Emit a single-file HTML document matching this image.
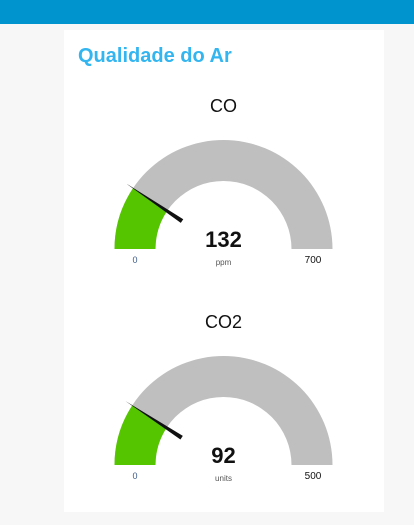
<!DOCTYPE html>
<html><head><meta charset="utf-8"><style>
html,body{margin:0;padding:0;width:414px;height:525px;background:#f7f7f7;overflow:hidden;font-family:"Liberation Sans",sans-serif}
#hdr{position:absolute;left:0;top:0;width:414px;height:24px;background:#0094ce}
#card{position:absolute;left:64px;top:30px;width:320px;height:482px;background:#fff}
svg{position:absolute;left:0;top:0}
</style></head><body>
<div id="hdr"></div>
<div id="card"></div>
<svg id="s" width="414" height="525">
<text x="78" y="62" font-size="20" font-weight="bold" fill="#33b5f0" style="font-weight:600">Qualidade do Ar</text>
</svg>
<script>
const gaugeTitles=["CO","CO2"];
const gaugeValues=[132,92];
const gaugeMins=[0,0];
const gaugeMaxes=[700,500];
const gaugeUnits=["ppm","units"];
const NS="http://www.w3.org/2000/svg";
const svg=document.getElementById('s');
function mk(t,a,p){const e=document.createElementNS(NS,t);for(const k in a)e.setAttribute(k,a[k]);(p||svg).appendChild(e);return e;}
const cx=223.5,R=109,r=68;
function pt(rad,f,cy){const a=Math.PI*(1-f);return [cx+rad*Math.cos(a),cy-rad*Math.sin(a)];}
function arc(f0,f1,cy){const a=pt(R,f0,cy),b=pt(R,f1,cy),c=pt(r,f1,cy),d=pt(r,f0,cy);
return `M${a[0]},${a[1]} A${R},${R} 0 0 1 ${b[0]},${b[1]} L${c[0]},${c[1]} A${r},${r} 0 0 0 ${d[0]},${d[1]} Z`;}
gaugeTitles.forEach((t,i)=>{
 const cy=249+i*216;
 const f=(gaugeValues[i]-gaugeMins[i])/(gaugeMaxes[i]-gaugeMins[i]);
 let e=mk('text',{x:cx,y:cy-137,'font-size':18,'text-anchor':'middle',fill:'#111'});e.textContent=t;
 
 
 e=mk('path',{d:arc(0,1,cy),fill:'#bfbfbf'});
 
 
 e=mk('path',{d:arc(0,f,cy),fill:'#55c500'});
 
 
 const a=Math.PI*(1-f),ux=Math.cos(a),uy=-Math.sin(a),nx=-uy,ny=ux;
 const o=[cx+117*ux,cy+117*uy],n=[cx+50*ux,cy+50*uy];
 e=mk('polygon',{points:`${o[0]},${o[1]} ${n[0]+2.2*nx},${n[1]+2.2*ny} ${n[0]-2.2*nx},${n[1]-2.2*ny}`,fill:'#111'});
 
 
 e=mk('text',{x:cx,y:cy-2,'font-size':22,'font-weight':'bold','text-anchor':'middle',fill:'#111'});e.textContent=gaugeValues[i];
 
 
 e=mk('text',{x:cx,y:cy+16,'font-size':8,'text-anchor':'middle',fill:'#555'});e.textContent=gaugeUnits[i];
 
 
 e=mk('text',{x:135,y:cy+14,'font-size':9,'text-anchor':'middle',fill:'#3a5a8a'});e.textContent=gaugeMins[i];
 
 
 e=mk('text',{x:313,y:cy+14,'font-size':10,'text-anchor':'middle',fill:'#111'});e.textContent=gaugeMaxes[i];
 
 
});
</script>
</body></html>
